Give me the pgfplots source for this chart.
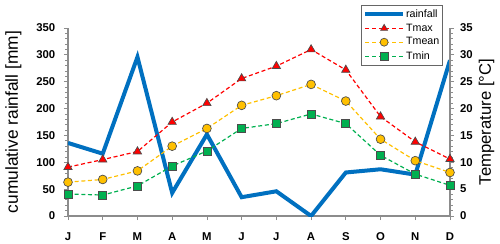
\documentclass[border=0pt]{standalone}
\usepackage{pgfplots}
\pgfplotsset{compat=1.18}
\usepackage{fontspec}
\setmainfont{Liberation Sans}
\definecolor{rainblue}{RGB}{0,112,192}
\definecolor{tmaxred}{RGB}{255,0,0}
\definecolor{tmeanor}{RGB}{255,192,0}
\definecolor{tmingr}{RGB}{0,176,80}
\definecolor{axgray}{RGB}{140,140,140}
\begin{document}
\begin{tikzpicture}
\pgfplotsset{
  common/.style={
    scale only axis, width=286.5pt, height=141pt,
    xmin=0, xmax=11,
    /pgf/number format/assume math mode=true,
    tick label style={font=\fontsize{8.5}{10}\selectfont\bfseries},
    axis line style={axgray, line width=0.8pt},
    every tick/.style={axgray, line width=0.6pt},
    major tick length=3pt, minor tick length=2pt,
    tick align=outside,
  }
}
\useasboundingbox (-51pt,-20.25pt) rectangle (324pt,162pt);
\begin{axis}[common,
  axis x line*=bottom, axis y line*=left,
  ymin=0, ymax=350, ytick={0,50,...,350}, minor y tick num=4,
  xtick={0,...,11}, xticklabels={J,F,M,A,M,J,J,A,S,O,N,D},
  x tick label style={anchor=center, yshift=-12.5pt},
  y tick label style={anchor=east, xshift=-3pt},
  ylabel={cumulative rainfall [mm]},
  ylabel style={font=\fontsize{13}{15}\selectfont, at={(axis description cs:-0.1427,0.5)}, anchor=center},
]
\addplot[rainblue, line width=3pt, line join=miter, miter limit=20] coordinates {
(0,136) (1,116) (2,296) (3,43) (4,152) (5,35) (6,46) (7,0) (8,81) (9,87) (10,77) (11,290)};
\end{axis}
\begin{axis}[common,
  axis x line=none, axis y line*=right,
  ymin=0, ymax=35, ytick={0,5,...,35}, minor y tick num=4,
  y tick label style={anchor=west, xshift=1pt},
  ylabel={Temperature [°C]},
  ylabel style={font=\fontsize{12.5}{15}\selectfont, at={(axis description cs:1.0956,0.5)}, anchor=center},
  legend style={at={(0.9817,1.122)}, anchor=north east, font=\fontsize{8}{9.5}\selectfont,
    draw=black!60, line width=0.5pt, row sep=-0.6pt, inner xsep=1.5pt, inner ysep=1pt, fill=white,
    nodes={inner xsep=1pt}},
  legend cell align=left,
  legend image code/.code={
    \draw[#1, mark=none] (0pt,0pt) -- (28pt,0pt);
    \draw[#1, mark size=3pt] plot coordinates {(14pt,0pt)};
  },
]
\addlegendimage{rainblue, line width=3pt}
\addlegendentry{rainfall}
\addplot[tmaxred, line width=0.9pt, dash pattern=on 3pt off 2pt,
  mark=triangle*, mark size=3.6pt, mark options={solid, fill=red, draw=black!70, line width=0.5pt}] coordinates {
(0,9.1) (1,10.5) (2,12) (3,17.5) (4,21) (5,25.6) (6,27.9) (7,31) (8,27.2) (9,18.5) (10,13.8) (11,10.6)};
\addlegendentry{Tmax}
\addplot[tmeanor, line width=0.9pt, dash pattern=on 3pt off 2pt,
  mark=*, mark size=3.3pt, mark options={solid, fill=tmeanor, draw=black!70, line width=0.5pt}] coordinates {
(0,6.3) (1,6.8) (2,8.4) (3,13) (4,16.3) (5,20.6) (6,22.4) (7,24.5) (8,21.4) (9,14.3) (10,10.3) (11,8.1)};
\addlegendentry{Tmean}
\addplot[tmingr, line width=0.9pt, dash pattern=on 3pt off 2pt,
  mark=square*, mark size=3pt, mark options={solid, fill=tmingr, draw=black!70, line width=0.5pt}] coordinates {
(0,4.1) (1,3.9) (2,5.6) (3,9.3) (4,12.1) (5,16.3) (6,17.2) (7,19) (8,17.2) (9,11.3) (10,7.8) (11,5.7)};
\addlegendentry{Tmin}
\end{axis}
\end{tikzpicture}
\end{document}
